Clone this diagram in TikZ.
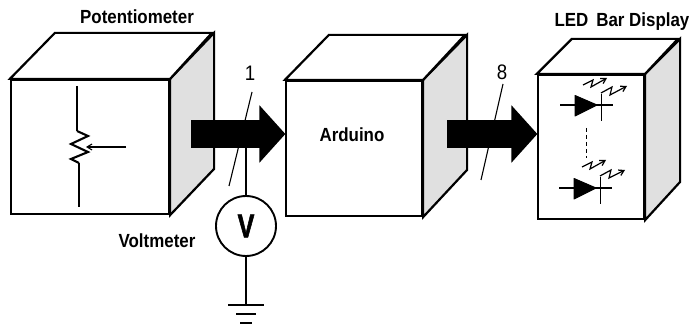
\documentclass[tikz,border=0pt]{standalone}
\usepackage{xcolor}
\usepackage{fontspec}
\setmainfont[FakeStretch=0.89]{Liberation Sans}
\newfontfamily\bigvfont[UprightFont={Liberation Sans Bold},FakeStretch=0.76,FakeBold=1.6]{Liberation Sans}
\usetikzlibrary{positioning,arrows.meta,calc}
\definecolor{sidegrey}{HTML}{E0E0E0}
\begin{document}
\begin{tikzpicture}[x=1pt,y=-1pt,font=\fontsize{19}{21}\selectfont\bfseries,
  face/.style={draw, line width=2.2pt, fill=white, inner sep=0pt},
  side/.style={draw, line width=2.2pt, line join=miter, fill=sidegrey},
  lid/.style={draw, line width=2.2pt, line join=miter, fill=white},
  bus/.style={line width=28pt, -{Triangle[length=26pt,width=56pt]}, shorten >=-0.5pt},
  wire/.style={line width=1.6pt},
  thin wire/.style={line width=1.1pt},
  beam/.style={line width=1.2pt, -{Straight Barb[length=5pt,width=6pt]}},
  diode/.style={fill, line width=1pt, draw, line join=round},
  lbl/.style={inner sep=0pt}]
\useasboundingbox (0,0) rectangle (689,326);
% boxes
\node[face, minimum width=158pt, minimum height=134pt] (pot) at (90,147) {};
\node[face, minimum width=136pt, minimum height=135pt] (ard) at (354,148.5) {};
\node[face, minimum width=106pt, minimum height=144pt] (led) at (591,147) {};
\draw[side] (pot.north east) -- ++(44,-46) -- ++(0,136) -- (pot.south east) -- cycle;
\draw[lid] (pot.north west) -- ++(45,-46) -- ++(157,0) -- (pot.north east) -- cycle;
\draw[side] (ard.north east) -- ++(44,-45) -- ++(0,135) -- (ard.south east) -- cycle;
\draw[lid] (ard.north west) -- ++(44,-45) -- ++(136,0) -- (ard.north east) -- cycle;
\draw[side] (led.north east) -- ++(35,-35) -- ++(0,143) -- (led.south east) -- cycle;
\draw[lid] (led.north west) -- ++(35,-35) -- ++(106,0) -- (led.north east) -- cycle;
% labels
\node[lbl] (potlbl) at (137,17) {Potentiometer};
\node[lbl] (ardlbl) at (352,135) {Arduino};
\node[lbl] (ledlbl) at (622,22) {LED\, Bar Display};
\node[lbl] (vmlbl) at (157,241) {Voltmeter};
\node[lbl, font=\fontsize{21}{22}\selectfont] (one) at (250,73) {1};
\node[lbl, font=\fontsize{21}{22}\selectfont] (eight) at (502,72) {8};
% buses
\coordinate (busa) at (191,134);
\coordinate (busb) at (447,134);
\draw[bus] (busa) -- (ard.west |- busa);
\draw[bus] (busb) -- (led.west |- busb);
% voltmeter
\node[draw, circle, line width=1.9pt, minimum size=60pt, inner sep=0pt, fill=white, font=\fontsize{33}{33}\bigvfont] (vm) at (246,226) {V};
\coordinate (vmtop) at (246,148);
\coordinate (gnd) at (246,305);
\draw[wire] (vmtop) -- (vm.north);
\draw[wire] (vm.south) -- (gnd);
\draw[wire] ($(gnd)+(-18,0)$) -- ($(gnd)+(18,0)$);
\draw[wire] ($(gnd)+(-10,9)$) -- ($(gnd)+(10,9)$);
\draw[wire] ($(gnd)+(-6,18)$) -- ($(gnd)+(6,18)$);
% bus width slashes
\coordinate (slashat) at (252,92);
\coordinate (slashab) at (229,186);
\coordinate (slashbt) at (503,84);
\coordinate (slashbb) at (481,180);
\draw[thin wire] (slashat) -- (slashab);
\draw[thin wire] (slashbt) -- (slashbb);
% potentiometer symbol
\draw[wire, line join=miter] (77,86) -- (77,131);
\draw[line width=2.1pt, line join=miter] (77,131) -- (88,136) -- (71,144) -- (88,152) -- (71,159) -- (79,163);
\draw[wire] (79,163) -- (79,207);
\draw[thin wire, -{Straight Barb[length=5pt,width=6pt]}] (126,147) -- (86,147);
% upper led
\draw[wire] (560,105) -- (613,105);
\draw[diode] (575,95.5) -- (597,105) -- (575,116) -- cycle;
\draw[wire] (601.5,94) -- (601.5,121);
\draw[beam] (583,85) -- (593,80) -- (591,87) -- (607,78);
\draw[beam] (601,93) -- (612,87) -- (610,95) -- (627,86);
% dots between
\draw[line width=0.9pt, dash pattern=on 4pt off 3pt] (586,128) -- (586,158);
% lower led
\draw[wire] (559,188) -- (612,188);
\draw[diode] (574,178.5) -- (596,188) -- (574,199) -- cycle;
\draw[wire] (600.5,177) -- (600.5,204);
\draw[beam] (582,167) -- (592,162) -- (590,169) -- (606,160);
\draw[beam] (600,176) -- (611,170) -- (609,178) -- (625,170);
\end{tikzpicture}
\end{document}
